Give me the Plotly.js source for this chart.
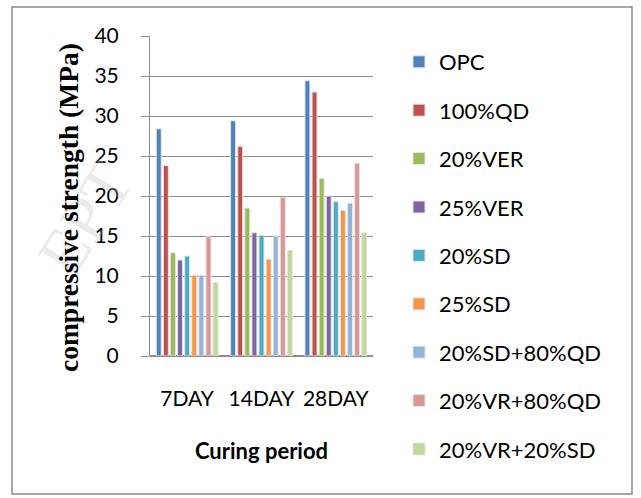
<!DOCTYPE html>
<html>
<head>
<meta charset="utf-8">
<script src="https://cdn.plot.ly/plotly-3.0.1.min.js"></script>
<style>
  html, body { margin: 0; padding: 0; background: #fff; }
  #chart { width: 641px; height: 498px; }
</style>
</head>
<body>
<div id="chart"></div>
<script>
// Curing periods along the x axis
const periods = ['7DAY', '14DAY', '28DAY'];

// Mix designs (one bar series each)
const mixes = ['OPC', '100%QD', '20%VER', '25%VER', '20%SD', '25%SD',
               '20%SD+80%QD', '20%VR+80%QD', '20%VR+20%SD'];

// Compressive strength (MPa) per mix, for 7, 14 and 28 days
const opc      = [28.4, 29.4, 34.4];
const qd100    = [23.8, 26.2, 33.0];
const ver20    = [12.9, 18.5, 22.2];
const ver25    = [12.0, 15.4, 20.0];
const sd20     = [12.5, 15.1, 19.3];
const sd25     = [10.1, 12.1, 18.2];
const sd20qd80 = [10.1, 15.0, 19.1];
const vr20qd80 = [14.9, 19.8, 24.1];
const vr20sd20 = [9.2, 13.2, 15.4];

const seriesValues = [opc, qd100, ver20, ver25, sd20, sd25, sd20qd80, vr20qd80, vr20sd20];

const yTicks = [0, 5, 10, 15, 20, 25, 30, 35, 40];

// Office-style palette
const colors = ['#4F81BD', '#C0504D', '#9BBB59', '#8064A2', '#4BACC6',
                '#F79646', '#95B3D7', '#D99694', '#C3D69B'];

const traces = mixes.map((name, i) => ({
  type: 'bar',
  name: name,
  x: periods,
  y: seriesValues[i],
  legendgroup: 'g' + i,
  marker: { color: colors[i], line: { color: '#e4e4e4', width: 1 } },
  hoverinfo: 'x+y+name'
}));

// Plot-area geometry in pixels
const W = 641, H = 498;
const M = { l: 150, r: 268, t: 36, b: 142, autoexpand: false };
const pw = W - M.l - M.r, ph = H - M.t - M.b;
const px = v => (v - M.l) / pw;
const py = v => (H - M.b - v) / ph;

const tickFont = { family: 'Lato, Calibri, sans-serif', size: 21, color: '#000' };

const layout = {
  width: W, height: H,
  margin: M,
  paper_bgcolor: '#fff',
  plot_bgcolor: '#fff',
  barmode: 'group',
  bargap: 0.14,
  bargroupgap: 0.3,
  showlegend: true,
  legend: {
    x: px(399), xanchor: 'left',
    y: py(41), yanchor: 'top',
    maxheight: 470,
    font: { family: 'Lato, Calibri, sans-serif', size: 22, color: '#000' },
    traceorder: 'grouped',
    tracegroupgap: 16.8,
    bgcolor: 'rgba(0,0,0,0)',
    borderwidth: 0
  },
  xaxis: {
    type: 'category',
    tickfont: tickFont,
    ticks: '',
    showline: false,
    showgrid: false,
    zeroline: false,
    ticklabelstandoff: 28,
    title: {
      text: '<b>Curing period</b>',
      font: { family: 'Lato, Calibri, sans-serif', size: 22, color: '#000' },
      standoff: 34
    }
  },
  yaxis: {
    range: [0, 40],
    tickvals: yTicks,
    ticktext: yTicks.map(String),
    tickfont: tickFont,
    ticks: 'outside',
    ticklen: 8,
    tickcolor: '#8c8c8c',
    tickwidth: 1,
    ticklabelstandoff: 18,
    showline: true,
    linecolor: '#8c8c8c',
    linewidth: 1,
    showgrid: true,
    gridcolor: '#8c8c8c',
    gridwidth: 1,
    zeroline: true,
    zerolinecolor: '#8c8c8c',
    zerolinewidth: 2
  },
  shapes: [{
    type: 'rect', xref: 'paper', yref: 'paper',
    x0: px(12), x1: px(632), y0: py(494), y1: py(7),
    line: { color: '#8a8a8a', width: 1.5 },
    fillcolor: 'rgba(0,0,0,0)',
    layer: 'below'
  }],
  annotations: [
    {
      // faint diagonal watermark letters at the left edge
      xref: 'paper', yref: 'paper',
      x: px(20), y: py(218),
      text: 'EPT',
      showarrow: false,
      textangle: -58,
      font: { family: '"Liberation Serif", serif', size: 66, color: 'rgba(190,190,190,0.3)' }
    },
    {
      // vertical axis title
      xref: 'paper', yref: 'paper',
      x: px(68), y: py(208),
      xanchor: 'center', yanchor: 'middle',
      text: '<b>compressive strength (MPa)</b>',
      showarrow: false,
      textangle: -90,
      font: { family: '"Liberation Serif", "Times New Roman", serif', size: 27.5, color: '#000' }
    }
  ]
};

Plotly.newPlot('chart', traces, layout, { staticPlot: true, displayModeBar: false });
</script>
</body>
</html>
